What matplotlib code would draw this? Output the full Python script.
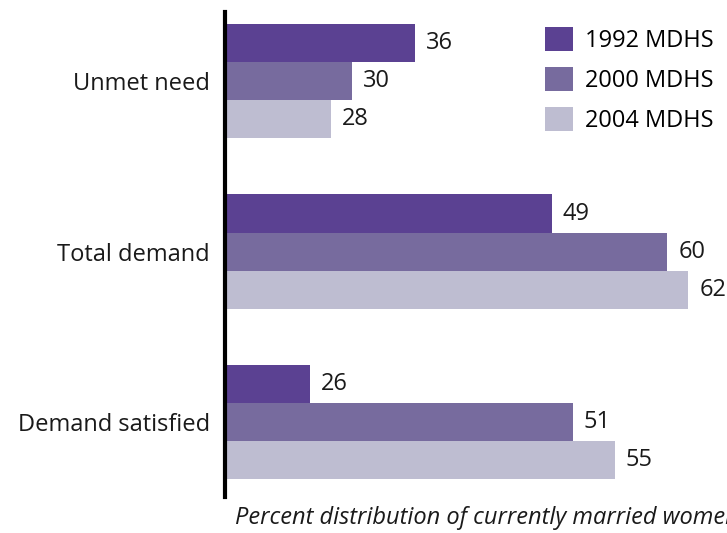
import numpy as np
import matplotlib
matplotlib.use('Agg')
from matplotlib import pyplot as plt

plt.rcParams['font.family'] = ['Open Sans', 'DejaVu Sans']

# data
categories = ['Unmet need', 'Total demand', 'Demand satisfied']
series_names = ['1992 MDHS', '2000 MDHS', '2004 MDHS']
values_1992 = [36, 49, 26]
values_2000 = [30, 60, 51]
values_2004 = [28, 62, 55]
footnote = 'Percent distribution of currently married women'

colors = ['#5b4192', '#776b9e', '#bebdd1']
W, H = 727, 533
fs = 17

fig = plt.figure(figsize=(W / 100, H / 100), dpi=100, facecolor='w')
ax = fig.add_axes([225 / W, 36 / H, 1 - 225 / W, 485 / H])

ypos = np.arange(len(categories))
bar_h = 0.223
offsets = [-bar_h, 0, bar_h]
all_vals = [values_1992, values_2000, values_2004]

for vals, off, col, name in zip(all_vals, offsets, colors, series_names):
    bars = ax.barh(ypos + off, vals, height=bar_h, color=col, label=name,
                   linewidth=0)
    for b, v in zip(bars, vals):
        ax.annotate(str(v), xy=(v, b.get_y() + b.get_height() / 2),
                    xytext=(8, 0), textcoords='offset points',
                    ha='left', va='center', fontsize=fs, color='#1a1a1a')

ax.set_xlim(17.9, 65.7)
ax.set_ylim(2.44, -0.405)
ax.set_yticks(ypos)
ax.set_yticklabels(categories, fontsize=fs, color='#1a1a1a')
ax.set_xticks([])
ax.tick_params(axis='y', length=0, pad=11)
for s in ['top', 'right', 'bottom']:
    ax.spines[s].set_visible(False)
ax.spines['left'].set_linewidth(3)
ax.spines['left'].set_color('black')

ax.legend(loc='upper left', bbox_to_anchor=(545 / W, 1 - 27 / H),
          bbox_transform=fig.transFigure, frameon=False, fontsize=fs,
          handlelength=1.18, handleheight=1.18, handletextpad=0.5,
          labelspacing=0.6, borderpad=0, borderaxespad=0)

fig.text(235 / W, 1 - 518 / H, footnote, fontsize=fs, style='italic',
         ha='left', va='center', color='#1a1a1a')

fig.savefig('out.png', dpi=100)
